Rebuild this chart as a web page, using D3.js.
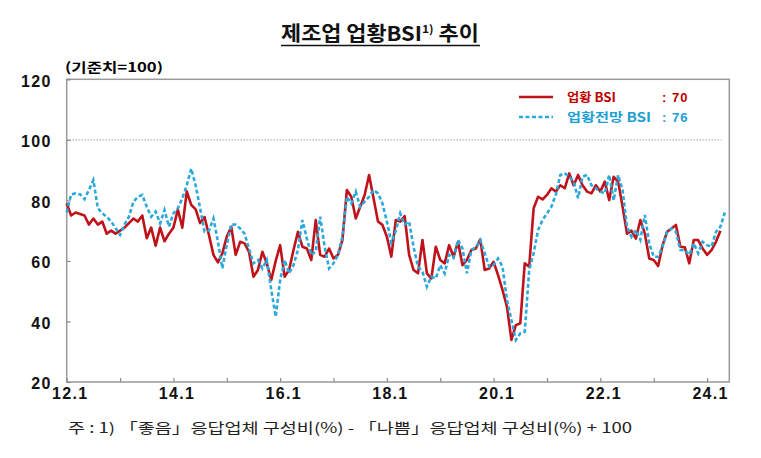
<!DOCTYPE html>
<html>
<head>
<meta charset="utf-8">
<script src="https://cdn.jsdelivr.net/npm/d3@7"></script>
<style>
  body { margin: 0; background: #fff; }
  svg { display: block; }
</style>
</head>
<body>
<div id="chart"></div>
<script>

// monthly index from 2012.1, tick every January
var yTicks = [20, 40, 60, 80, 100, 120];
var xTickLabels = ["12.1", "", "14.1", "", "16.1", "", "18.1", "", "20.1", "", "22.1", "", "24.1"];

// 업황 BSI (2012.1 ~ 2024.4)
var current = [
  79, 75, 76, 75.5, 75, 72, 74, 72, 73, 69, 70, 69,
  70, 71, 72.5, 74, 73, 75, 67.5, 71, 65, 71, 66.5, 69,
  71, 77, 71, 83, 78.5, 77, 72.5, 74.5, 68.5, 62, 59.5, 62.5,
  68, 71.3, 62, 66.3, 65.8, 63, 54.8, 57, 63, 59.2, 53.7, 60,
  65.2, 54.8, 57, 63.6, 69.6, 64.7, 64.1, 60.3, 73.5, 62, 61.4, 64.1,
  60.8, 62, 66.9, 83.4, 81.2, 74, 77.9, 81.8, 88.4, 80.7, 73, 71.9,
  68, 61.4, 73.5, 73, 74.8, 62, 57, 55.9, 66.9, 55.9, 54.2, 64.7,
  60.3, 59.2, 65.2, 61.4, 66.3, 58.6, 60.3, 63.6, 64.1, 67.1, 57, 57.5,
  59.7, 55.3, 50.4, 44.9, 33.9, 38.8, 39.4, 59.2, 58.1, 77.4, 81.2, 80.3,
  81.8, 84, 82.9, 85, 84, 88.9, 85, 88.4, 85, 82.9, 82.3, 85,
  82.9, 86.2, 80.1, 87.8, 86.2, 78, 69, 70, 67.4, 73.5, 69.1, 60.8,
  60.3, 58.3, 65.2, 69.6, 70.7, 71.9, 64.7, 64.5, 59.2, 66.9, 66.9, 64.1,
  62, 63.6, 66.3, 70
];

// 업황전망 BSI (2012.1 ~ 2024.5)
var outlook = [
  76, 82, 82.3, 82, 80.4, 83.4, 86.7, 77.4, 75.7, 74.6, 73, 70.8,
  68.6, 72, 74.6, 79.6, 81.2, 81.8, 77.9, 74.6, 76.3, 72.4, 76.8, 71.3,
  75.7, 77.4, 80.7, 85, 90.5, 85, 77.4, 69.7, 70, 74, 66.4, 57.6,
  65.3, 72, 72, 70.7, 69, 64, 59.2, 60.3, 57.5, 60.3, 50.4, 41.6,
  53.7, 60.3, 55.9, 58.6, 63.6, 73.5, 67.4, 62, 63, 74.6, 64.7, 57.5,
  59.2, 62, 68, 81.2, 79, 82.9, 77.9, 79.6, 81.2, 83.4, 82.3, 79,
  73, 66, 70, 75.7, 72, 73, 64.7, 58.1, 56.4, 51.5, 54.8, 54.2,
  58.6, 55.9, 62, 61, 66.9, 64.1, 55.9, 63.6, 64.5, 66.9, 62.5, 58.1,
  58.6, 60.8, 58.1, 47.1, 40.5, 33.9, 36.1, 36.6, 57, 62.5, 70.2, 73.5,
  75.7, 77.9, 82, 88.4, 88.9, 87.8, 86.2, 80.7, 87.8, 88.4, 85, 84,
  82.9, 82.3, 88.4, 80, 88.4, 83.4, 71.3, 68, 70.2, 67, 75.2, 65.8,
  61.4, 61.4, 64.7, 69.6, 70.7, 69.6, 63.6, 63.6, 62, 65.8, 62.5, 66.3,
  65.2, 64.7, 69.6, 71.3, 76
];

var seriesNames = ["업황 BSI", "업황전망 BSI"];
var latest = [70, 76];

var W = 761, H = 458;
var plot = { left: 66.7, right: 729.3, top: 79.3, bottom: 382 };
var redColor = "#c0121a", blueColor = "#2aa9dc";

var svg = d3.select("#chart")
  .append("svg")
  .attr("width", W)
  .attr("height", H);

var x = d3.scaleLinear().domain([0, 149]).range([plot.left, plot.right]);
var y = d3.scaleLinear().domain([20, 120]).range([plot.bottom, plot.top]);

// title
var title = svg.append("text")
  .attr("x", 0).attr("y", 0)
  .attr("font-family", "'Noto Sans CJK KR', sans-serif")
  .attr("font-weight", 700)
  .attr("font-size", 20)
  .attr("fill", "#111");
title.append("tspan").text("제조업 업황BSI");
title.append("tspan").attr("font-size", 11).attr("dy", -8).text("1)");
title.append("tspan").attr("dy", 8).text(" 추이");
var tb = title.node().getBBox();
var sx = 198 / tb.width;
title.attr("transform", "translate(281,41) scale(" + sx + ",1)");
svg.append("line")
  .attr("x1", 281).attr("x2", 480)
  .attr("y1", 45.5).attr("y2", 45.5)
  .attr("stroke", "#111").attr("stroke-width", 1.3);

// unit
svg.append("text")
  .attr("x", 65).attr("y", 72)
  .attr("font-family", "'Noto Sans CJK KR', sans-serif")
  .attr("font-weight", 700)
  .attr("font-size", 13)
  .attr("textLength", 98)
  .attr("lengthAdjust", "spacingAndGlyphs")
  .text("(기준치=100)");

// frame
svg.append("rect")
  .attr("x", plot.left).attr("y", plot.top)
  .attr("width", plot.right - plot.left)
  .attr("height", plot.bottom - plot.top)
  .attr("fill", "none")
  .attr("stroke", "#9a9a9a")
  .attr("stroke-width", 1.5);

// 100 reference line
svg.append("line")
  .attr("x1", plot.left).attr("x2", plot.right - 8)
  .attr("y1", y(100)).attr("y2", y(100))
  .attr("stroke", "#777")
  .attr("stroke-width", 1)
  .attr("stroke-dasharray", "1,2");

// axes
var yAxis = svg.append("g")
  .attr("transform", "translate(" + plot.left + ",0)")
  .call(d3.axisLeft(y).tickValues(yTicks).tickSize(-4).tickPadding(15));
var xAxis = svg.append("g")
  .attr("transform", "translate(0," + plot.bottom + ")")
  .call(d3.axisBottom(x)
    .tickValues(d3.range(0, 145, 12))
    .tickSize(-4).tickPadding(6)
    .tickFormat(function (d, i) { return xTickLabels[i]; }));

[yAxis, xAxis].forEach(function (g) {
  g.select(".domain").remove();
  g.selectAll(".tick line").attr("stroke", "#8a8a8a").attr("stroke-width", 1.2);
  g.selectAll(".tick text")
    .attr("fill", "#111")
    .attr("font-family", "'Liberation Sans', Arial, sans-serif")
    .attr("font-weight", 700)
    .attr("font-size", 16)
    .attr("letter-spacing", 1.3);
});
yAxis.selectAll(".tick text").attr("dy", "0.42em");
xAxis.selectAll(".tick text").attr("dx", 3);

// lines
var line = d3.line()
  .x(function (d, i) { return x(i); })
  .y(function (d) { return y(d); });

svg.append("path")
  .datum(current)
  .attr("d", line)
  .attr("fill", "none")
  .attr("stroke", redColor)
  .attr("stroke-width", 2.6)
  .attr("stroke-linejoin", "round");

svg.append("path")
  .datum(outlook)
  .attr("d", line)
  .attr("fill", "none")
  .attr("stroke", blueColor)
  .attr("stroke-width", 2.6)
  .attr("stroke-dasharray", "4,2.5");

// legend
var legend = svg.append("g");
var rows = [
  { name: seriesNames[0], val: latest[0], color: redColor, dash: null, ty: 97, txtColor: "#c00000", w: 49 },
  { name: seriesNames[1], val: latest[1], color: blueColor, dash: "4,2.5", ty: 117, txtColor: "#1d9fd6", w: 84 }
];
rows.forEach(function (r) {
  legend.append("line")
    .attr("x1", 519).attr("x2", 553)
    .attr("y1", r.ty).attr("y2", r.ty)
    .attr("stroke", r.color)
    .attr("stroke-width", 2.4)
    .attr("stroke-dasharray", r.dash);
  legend.append("text")
    .attr("x", 567).attr("y", r.ty + 4.5)
    .attr("fill", r.txtColor)
    .attr("font-family", "'Noto Sans CJK KR', sans-serif")
    .attr("font-weight", 700)
    .attr("font-size", 12.5)
    .attr("textLength", r.w)
    .attr("lengthAdjust", "spacingAndGlyphs")
    .text(r.name);
  legend.append("text")
    .attr("x", 662).attr("y", r.ty + 4.5)
    .attr("fill", r.txtColor)
    .attr("font-family", "'Liberation Sans', Arial, sans-serif")
    .attr("font-weight", 700)
    .attr("font-size", 13)
    .attr("letter-spacing", 1)
    .text(": " + r.val);
});

// footnote
svg.append("text")
  .attr("x", 68).attr("y", 433)
  .attr("font-family", "'Noto Sans CJK KR', sans-serif")
  .attr("font-size", 14)
  .attr("fill", "#222")
  .attr("textLength", 564)
  .attr("lengthAdjust", "spacingAndGlyphs")
  .text("주 : 1) 「좋음」응답업체 구성비(%) - 「나쁨」응답업체 구성비(%) + 100");

</script>
</body>
</html>
